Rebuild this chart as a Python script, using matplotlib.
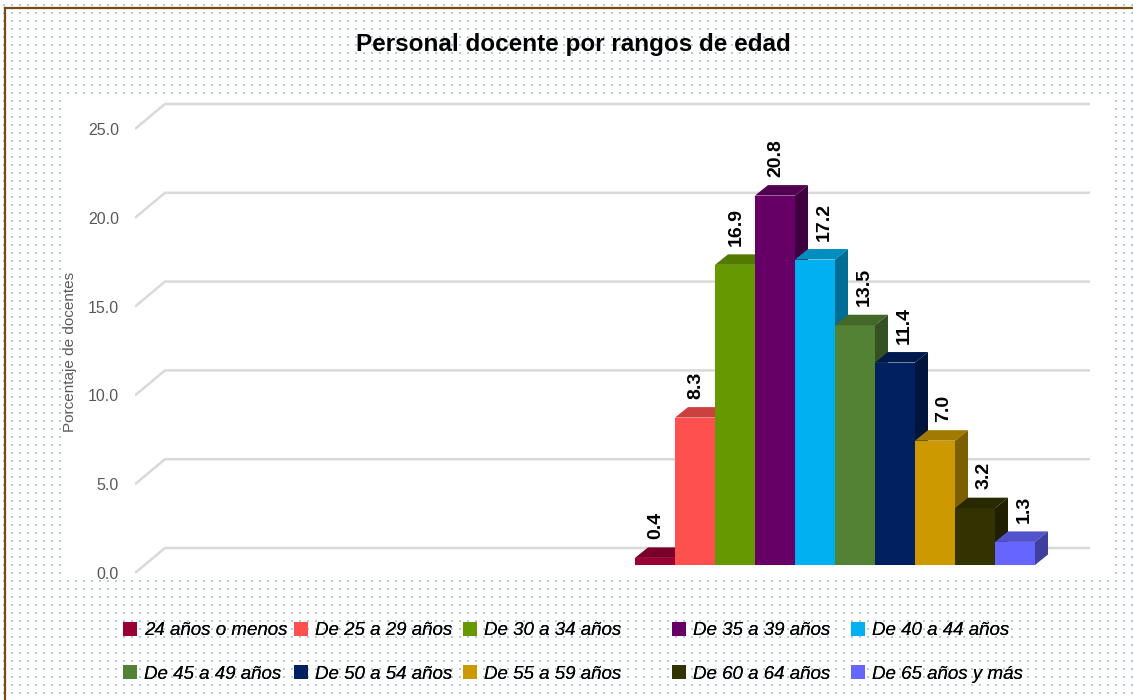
import matplotlib
matplotlib.use("Agg")
import matplotlib.pyplot as plt
import numpy as np
from matplotlib.patches import Polygon, Patch
from matplotlib.lines import Line2D
from matplotlib.colors import to_rgb

# ---------------- data ----------------
categories = ["24 años o menos", "De 25 a 29 años", "De 30 a 34 años",
              "De 35 a 39 años", "De 40 a 44 años", "De 45 a 49 años",
              "De 50 a 54 años", "De 55 a 59 años", "De 60 a 64 años",
              "De 65 años y más"]
values = [0.4, 8.3, 16.9, 20.8, 17.2, 13.5, 11.4, 7.0, 3.2, 1.3]
colors = ["#990033", "#ff5050", "#669900", "#660066", "#00b0f0",
          "#548235", "#002060", "#cc9900", "#333300", "#6666ff"]
yticks = [0, 5, 10, 15, 20, 25]
title = "Personal docente por rangos de edad"
ylabel = "Porcentaje de docentes"

FONT = ["Liberation Sans", "DejaVu Sans"]

W, H = 1133, 700
fig = plt.figure(figsize=(W / 100, H / 100), dpi=100)

# ---------------- dotted background ----------------
bg = np.ones((H, W, 3))
dot = np.array(to_rgb("#b4c7e7"))
for yy in range(4, H, 8):
    for xx in range(3, W, 8):
        bg[yy:yy + 2, xx:xx + 2] = dot
bg[95:577, 62:1110] = 1.0
fig.figimage(bg, 0, 0, origin="upper", zorder=-5)

# border (left and top)
fig.add_artist(Line2D([5 / W, 5 / W], [0, 1 - 8 / H], color="#7b4a12", lw=1.6,
                      transform=fig.transFigure, zorder=-1))
fig.add_artist(Line2D([5 / W, 1], [1 - 8 / H, 1 - 8 / H], color="#7b4a12", lw=1.6,
                      transform=fig.transFigure, zorder=-1))

# ---------------- axes geometry ----------------
px_left, px_right, px_top, px_bot = 135, 1090, 95, 580
bar_px, unit_px = 40.0, 17.76
first_bar_px, zero_px = 635, 565
ax = fig.add_axes([px_left / W, 1 - px_bot / H, (px_right - px_left) / W,
                   (px_bot - px_top) / H], zorder=2)
ax.set_xlim((px_left - first_bar_px) / bar_px, (px_right - first_bar_px) / bar_px)
ax.set_ylim(-(px_bot - zero_px) / unit_px, (zero_px - px_top) / unit_px)
ax.patch.set_alpha(0)
for s in ax.spines.values():
    s.set_visible(False)
ax.set_xticks([])

dx = 13 / bar_px
dy = 10.5 / unit_px
front_off = -8 / unit_px
back_off = 17 / unit_px
slant = 30 / bar_px

x0, x1 = ax.get_xlim()
for v in yticks:
    ax.plot([x0, x0 + slant, x1], [v + front_off, v + back_off, v + back_off],
            color="#d9d9d9", lw=1.8, zorder=1, solid_capstyle="butt")

ax.set_yticks([v + front_off for v in yticks])
ax.set_yticklabels([f"{v:.1f}" for v in yticks])
ax.tick_params(axis="y", length=0, pad=11.5, labelsize=11.5, labelcolor="#595959")
for t in ax.get_yticklabels():
    t.set_family(FONT)


def shade(c, f):
    r, g, b = to_rgb(c)
    return (r * f, g * f, b * f)


xs = np.arange(len(values))
bars = ax.bar(xs, values, width=1.0, align="edge", color=colors, linewidth=0)
for i, (rect, v, c) in enumerate(zip(bars, values, colors)):
    z = 3 + 0.01 * i
    rect.set_zorder(z)
    top = Polygon([(i, v), (i + 1, v), (i + 1 + dx, v + dy), (i + dx, v + dy)],
                  closed=True, facecolor=shade(c, 0.8), edgecolor="none", zorder=z)
    side = Polygon([(i + 1, 0), (i + 1 + dx, dy), (i + 1 + dx, v + dy), (i + 1, v)],
                   closed=True, facecolor=shade(c, 0.62), edgecolor="none", zorder=z)
    ax.add_patch(top)
    ax.add_patch(side)
    # label shifted right when the previous (taller) bar's side face would touch it
    shift_pt = 6.5 if (i > 0 and values[i - 1] > v) else 0.7
    ax.annotate(f"{v:.1f}", xy=(i + 0.5, v + dy), xytext=(shift_pt, 6),
                textcoords="offset points", rotation=90, ha="center", va="bottom",
                fontsize=14, fontweight="bold", family=FONT, color="black",
                zorder=10)

# ---------------- texts ----------------
fig.text(573 / W, 1 - 45 / H, title, ha="center", va="center", fontsize=17.5,
         fontweight="bold", family=FONT, color="black")
fig.text(70 / W, 1 - 352 / H, ylabel, ha="center", va="center", rotation=90,
         fontsize=11, family=FONT, color="#595959")

# ---------------- legend (5 columns, 2 rows, row-major order) ----------------
handles = [Patch(facecolor=c, edgecolor="none", label=l)
           for c, l in zip(colors, categories)]
ncols = 5
col_px = [123, 294, 463, 672, 851]
for j in range(ncols):
    idx = [j, j + ncols]
    lg = fig.legend([handles[k] for k in idx], [categories[k] for k in idx],
                    loc="upper left", bbox_to_anchor=(col_px[j] / W, 1 - 622 / H),
                    frameon=False, borderpad=0, borderaxespad=0,
                    handlelength=0.75, handleheight=0.75, handletextpad=0.35,
                    labelspacing=1.38,
                    prop={"family": FONT, "style": "italic", "size": 13.5})
    fig.add_artist(lg)

fig.savefig("out.png", dpi=100)
